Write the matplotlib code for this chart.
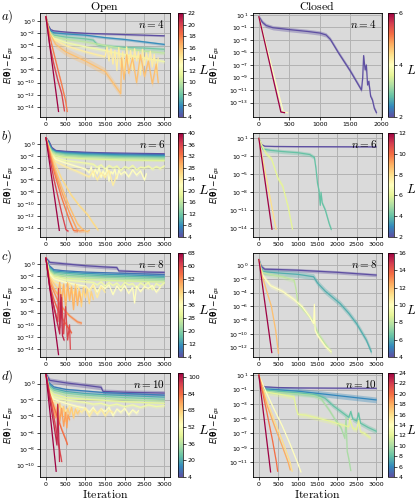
import numpy as np
import matplotlib
matplotlib.use('Agg')
import matplotlib.pyplot as plt
from matplotlib import colors
from matplotlib.cm import ScalarMappable
from matplotlib.ticker import NullLocator

#---------------------------------DATA (log10 of E - E_gs)---------------------------------------------
# open boundary, n = 4
open4_L = [4, 6, 8, 10, 12, 14, 16, 18, 20, 22]
open4_x = [
    [0, 50, 120, 200, 500, 1000, 1500, 2000, 2500, 3000],
    [0, 50, 120, 200, 500, 1000, 1500, 2000, 2500, 3000],
    [0, 50, 120, 200, 500, 1000, 1200, 1300, 1400, 1600, 2000, 2500, 3000],
    [0, 50, 120, 200, 500, 1000, 1500, 2000, 2500, 3000],
    [0, 50, 120, 200, 500, 1000, 1500, 2000, 2500, 3000],
    [0, 50, 120, 200, 500, 1000, 1300, 1500, 1550, 1600, 1650, 1700, 1750, 1800, 1850, 1900, 1950, 2000,
     2050, 2100, 2150, 2200, 2250, 2300, 2350, 2400, 2450, 2500, 2550, 2600, 2650, 2700, 2750, 2800, 2850],
    [0, 100, 250, 500, 1000, 1500, 1900, 1920, 1980, 2050, 2100, 2200, 2300, 2400, 2500, 2600, 2700, 2800, 2850],
    [0, 100, 200, 300, 400, 500, 540],
    [0, 100, 200, 300, 400, 470],
    [0, 320],
]
open4_y = [
    [0.7, -0.6, -1.4, -1.6, -1.8, -2.0, -2.1, -2.2, -2.3, -2.4],
    [0.7, -0.8, -1.6, -1.9, -2.1, -2.3, -2.7, -3.0, -3.4, -3.8],
    [0.7, -1.0, -1.9, -2.3, -2.6, -2.9, -3.1, -3.8, -4.0, -4.1, -4.3, -4.4, -4.6],
    [0.7, -1.1, -2.0, -2.5, -3.0, -3.4, -4.0, -4.5, -4.9, -5.2],
    [0.7, -1.2, -2.2, -2.8, -3.5, -4.2, -4.8, -5.5, -6.0, -6.6],
    [0.7, -1.3, -2.4, -3.0, -4.0, -5.0, -5.5, -5.8, -4.2, -6.5, -4.5, -7.0, -4.8, -8.0, -4.3, -7.5, -5.0, -8.5,
     -4.2, -7.0, -4.8, -8.0, -4.5, -6.5, -5.0, -8.8, -4.6, -7.2, -5.2, -6.8, -4.9, -7.5, -5.4, -8.5, -6.0],
    [0.7, -2.0, -3.8, -5.0, -6.5, -8.2, -11.8, -6.0, -9.5, -5.5, -8.5, -6.0, -10.0, -5.5, -9.0, -6.5, -10.2, -7.0, -10.0],
    [0.7, -2.6, -5.2, -7.8, -10.3, -13.0, -14.7],
    [0.7, -4.0, -7.0, -9.6, -11.8, -14.6],
    [0.7, -14.7],
]
open4_s = [0.15, 0.2, 0.35, 0.3, 0.3, 0.3, 0.6, 0.3, 0.3, 0.1]

# open boundary, n = 6
open6_L = [4, 6, 8, 10, 12, 14, 16, 18, 20, 22, 24, 26, 28, 30, 32, 36, 40]
xb = [0, 80, 150, 250, 500, 1000, 1500, 2000, 2500, 3000]
open6_x = [
    xb, xb, xb, xb, xb, xb, xb, xb,
    [0, 80, 150, 250, 500, 1000, 1200, 1300, 1400, 1500, 1600, 1700, 1800, 1900, 2000, 2100, 2200, 2300,
     2400, 2500, 2600, 2700, 2800, 2900, 3000],
    [0, 80, 150, 250, 500, 800, 1000, 1100, 1150, 1200, 1250, 1300, 1350, 1400, 1450, 1500, 1550, 1600,
     1650, 1700, 1750, 1800, 1850, 1900, 2000, 2100, 2200, 2300, 2400, 2500, 2550],
    [0, 80, 150, 250, 500, 800, 1000, 1100, 1200, 1300, 1400, 1500, 1600, 1700, 1800],
    [0, 200, 400, 640, 850, 1060, 1200, 1320],
    [0, 200, 400, 600, 800, 950, 1050, 1100],
    [0, 200, 400, 600, 790, 850, 950],
    [0, 200, 400, 600, 700, 800],
    [0, 200, 400, 510, 560],
    [0, 340],
]
open6_y = [
    [1.0, 0.4, -0.6, -1.1, -1.25, -1.4, -1.5, -1.55, -1.6, -1.65],
    [1.0, 0.2, -0.8, -1.2, -1.35, -1.5, -1.6, -1.7, -1.75, -1.8],
    [1.0, 0.0, -0.9, -1.3, -1.5, -1.65, -1.75, -1.85, -1.9, -1.95],
    [1.0, -0.2, -1.0, -1.4, -1.6, -1.8, -1.9, -2.0, -2.05, -2.1],
    [1.0, -0.4, -1.1, -1.5, -1.75, -1.95, -2.05, -2.15, -2.2, -2.25],
    [1.0, -0.5, -1.2, -1.6, -1.9, -2.1, -2.2, -2.3, -2.35, -2.4],
    [1.0, -0.6, -1.4, -1.8, -2.1, -2.3, -2.4, -2.5, -2.55, -2.6],
    [1.0, -0.8, -1.6, -2.0, -2.3, -2.5, -2.6, -2.7, -2.75, -2.8],
    [1.0, -1.0, -1.8, -2.3, -2.8, -3.2, -3.4, -3.9, -3.5, -4.2, -3.6, -4.0, -3.7, -4.4, -3.8, -4.1, -3.6, -4.3,
     -3.9, -4.0, -3.7, -4.2, -3.8, -4.1, -3.7],
    [1.0, -1.2, -2.0, -2.6, -3.2, -3.8, -4.2, -4.8, -3.8, -5.5, -4.2, -5.0, -3.9, -5.6, -4.5, -5.2, -4.0, -6.2,
     -4.6, -5.0, -4.2, -5.8, -4.4, -5.1, -4.6, -5.5, -4.3, -5.2, -4.5, -6.0, -5.0],
    [1.0, -1.4, -2.3, -3.0, -3.8, -4.6, -5.2, -5.5, -4.5, -6.0, -4.8, -5.6, -4.4, -6.9, -5.2],
    [1.0, -2.8, -5.8, -8.5, -10.3, -11.8, -13.2, -14.3],
    [1.0, -3.5, -7.2, -10.5, -13.3, -14.4, -14.6, -14.4],
    [1.0, -4.0, -8.0, -11.5, -14.3, -14.5, -14.4],
    [1.0, -4.5, -9.0, -12.8, -14.4, -14.5],
    [1.0, -5.8, -11.5, -14.3, -14.5],
    [1.0, -14.4],
]
open6_s = [0.12, 0.12, 0.12, 0.12, 0.12, 0.12, 0.12, 0.15, 0.3, 0.3, 0.3, 0.3, 0.3, 0.3, 0.3, 0.2, 0.1]

# open boundary, n = 8
open8_L = [4, 8, 12, 16, 20, 24, 28, 32, 36, 40, 44, 48, 52, 56, 60, 64, 68]
xc = [0, 80, 200, 500, 1000, 1500, 2000, 2500, 3000]
open8_x = [
    [0, 100, 500, 1000, 1500, 1800, 1850, 2200, 2600, 3000],
    xc, xc, xc, xc, xc, xc,
    [0, 80, 200, 500, 1000, 1200, 1300, 1400, 1500, 1600, 1700, 1800, 1900, 2000, 2100, 2200, 2300, 2400,
     2500, 2600, 2700, 2800, 2900, 3000],
    [0, 80, 200, 500, 800, 1000, 1100, 1200, 1300, 1400, 1500, 1600, 1700, 1800, 1900, 2000, 2100, 2200,
     2250, 2300, 2400, 2500, 2600, 2700, 2800, 2900],
    [0, 80, 200, 400, 500, 600, 700, 800, 900, 1000, 1100, 1200, 1300, 1400, 1500],
    [0, 80, 200, 300, 400, 450, 500, 550, 600, 650, 700, 750, 800, 850, 900, 950, 1000, 1050, 1100, 1150, 1200],
    [0, 100, 200, 300, 350, 400, 450, 500, 550, 600, 650, 700, 750, 800, 850, 900],
    [0, 100, 200, 300, 400, 500, 600, 700, 800, 900],
    [0, 100, 200, 300, 400, 500, 600, 650],
    [0, 100, 200, 300, 320, 350, 400, 450, 500, 550, 600, 620],
    [0, 100, 200, 300, 350, 380, 420, 460],
    [0, 320],
]
open8_y = [
    [1.0, 0.3, 0.05, -0.25, -0.45, -0.55, -1.1, -1.2, -1.3, -1.35],
    [1.0, -0.2, -0.9, -1.1, -1.3, -1.4, -1.5, -1.6, -1.7],
    [1.0, -0.4, -1.1, -1.3, -1.5, -1.65, -1.75, -1.85, -1.95],
    [1.0, -0.6, -1.3, -1.5, -1.75, -1.9, -2.0, -2.1, -2.2],
    [1.0, -0.8, -1.5, -1.8, -2.0, -2.15, -2.25, -2.35, -2.45],
    [1.0, -1.0, -1.7, -2.0, -2.25, -2.4, -2.5, -2.6, -2.7],
    [1.0, -1.2, -1.9, -2.3, -2.5, -2.65, -2.75, -2.85, -2.95],
    [1.0, -1.3, -2.1, -2.6, -2.9, -3.0, -3.4, -2.9, -3.6, -3.0, -3.5, -3.1, -3.8, -3.0, -3.4, -3.2, -3.9, -3.1,
     -3.5, -3.0, -4.2, -3.2, -3.6, -3.1],
    [1.0, -1.5, -2.4, -3.0, -3.4, -3.6, -4.2, -3.3, -4.6, -3.5, -4.0, -3.4, -5.0, -3.6, -4.4, -3.5, -4.8, -3.8,
     -6.4, -3.6, -4.5, -3.7, -4.0, -3.5, -4.6, -3.8],
    [1.0, -1.8, -2.8, -3.4, -4.2, -3.2, -4.8, -3.5, -5.2, -3.6, -4.5, -3.4, -5.5, -3.7, -4.6],
    [1.0, -2.0, -3.2, -4.0, -5.5, -3.2, -6.2, -3.0, -5.8, -3.6, -6.8, -3.3, -6.0, -4.0, -7.0, -3.8, -5.5, -4.2,
     -6.5, -4.5, -5.8],
    [1.0, -2.5, -4.0, -5.0, -3.0, -6.5, -3.4, -7.2, -3.2, -6.0, -3.8, -7.5, -4.0, -6.8, -4.5, -6.2],
    [1.0, -3.0, -4.5, -6.0, -7.0, -7.8, -8.5, -9.0, -9.5, -9.7],
    [1.0, -3.5, -5.8, -7.5, -8.8, -9.8, -10.8, -11.3],
    [1.0, -4.0, -7.0, -9.5, -4.0, -10.5, -5.5, -11.5, -7.0, -12.5, -10.0, -14.0],
    [1.0, -3.8, -7.0, -10.0, -11.5, -5.0, -11.8, -12.5],
    [1.0, -14.9],
]
open8_s = [0.3, 0.15, 0.12, 0.12, 0.12, 0.12, 0.15, 0.25, 0.25, 0.25, 0.3, 0.3, 0.3, 0.3, 0.3, 0.3, 0.1]

# open boundary, n = 10
open10_L = [4, 12, 20, 28, 36, 44, 48, 54, 60, 68, 76, 84, 92, 98, 104]
xd = [0, 80, 200, 500, 1000, 1500, 2000, 2500, 3000]
open10_x = [
    [0, 100, 500, 1000, 1400, 1450, 2000, 2500, 3000],
    xd, xd, xd, xd, xd,
    [0, 80, 200, 500, 1000, 1200, 1400, 1600, 1800, 2000, 2200, 2400, 2600, 2800, 3000],
    [0, 80, 200, 500, 800, 1000, 1100, 1200, 1300, 1400, 1500, 1600, 1700, 1800, 1900, 2000, 2100, 2200,
     2300, 2350],
    [0, 80, 200, 400, 500, 600, 700, 800, 900, 1000, 1100, 1200, 1300, 1400, 1500, 1600, 1700],
    [0, 80, 200, 300, 350, 400, 450, 500, 550, 600, 650, 700, 750, 800, 850],
    [0, 100, 200, 250, 300, 350, 400, 450, 500, 530, 560, 600],
    [0, 100, 200, 300, 400, 500, 545],
    [0, 100, 200, 300, 400],
    [0, 100, 200, 280, 300, 345],
    [0, 260],
]
open10_y = [
    [1.2, 0.4, 0.1, -0.2, -0.45, -0.95, -1.05, -1.1, -1.15],
    [1.2, 0.1, -0.4, -0.7, -0.9, -1.1, -1.2, -1.3, -1.4],
    [1.2, -0.1, -0.6, -0.95, -1.2, -1.35, -1.45, -1.55, -1.65],
    [1.2, -0.3, -0.8, -1.15, -1.4, -1.55, -1.7, -1.8, -1.9],
    [1.2, -0.5, -1.0, -1.4, -1.65, -1.8, -1.95, -2.05, -2.15],
    [1.2, -0.7, -1.3, -1.7, -1.9, -2.05, -2.2, -2.3, -2.4],
    [1.2, -0.9, -1.6, -2.0, -2.3, -2.5, -2.4, -2.7, -2.5, -2.8, -2.6, -2.9, -2.6, -2.8, -2.7],
    [1.2, -1.1, -1.9, -2.4, -2.8, -3.0, -3.5, -2.9, -3.7, -3.1, -3.4, -2.9, -3.9, -3.1, -3.5, -3.0, -3.8, -3.2,
     -3.6, -3.3],
    [1.2, -1.3, -2.2, -2.8, -3.4, -2.7, -3.8, -2.9, -3.5, -3.0, -4.0, -3.2, -3.6, -3.1, -3.9, -3.3, -3.5],
    [1.2, -1.6, -2.6, -3.3, -2.4, -4.0, -2.8, -4.6, -3.0, -3.8, -2.9, -4.2, -3.1, -3.7, -3.3],
    [1.2, -2.0, -3.2, -4.2, -2.6, -4.6, -3.0, -5.2, -3.5, -5.4, -3.8, -4.4],
    [1.2, -1.2, -2.8, -4.2, -5.6, -6.8, -7.4],
    [1.2, -1.5, -4.0, -6.8, -9.5],
    [1.2, -2.0, -5.0, -7.5, -2.5, -9.5],
    [1.2, -10.7],
]
open10_s = [0.3, 0.15, 0.12, 0.12, 0.12, 0.12, 0.2, 0.25, 0.25, 0.3, 0.3, 0.3, 0.3, 0.3, 0.1]

# closed boundary, n = 4
closed4_L = [2, 4, 6]
closed4_x = [
    [0, 60, 120, 230, 500, 800, 1000, 1100, 1170, 1300, 1500, 1680, 1700, 1715, 1740, 1760, 1780, 1800,
     1830, 1860, 1890, 1925],
    [0, 400, 470],
    [0, 360, 420],
]
closed4_y = [
    [0.7, -0.2, -0.7, -1.05, -1.35, -1.65, -1.9, -2.2, -2.9, -5.0, -8.0, -11.0, -9.0, -5.5, -7.8, -7.0, -10.2,
     -9.6, -12.0, -12.6, -13.9, -14.6],
    [0.7, -14.5, -14.6],
    [0.7, -14.5, -14.6],
]
closed4_s = [0.35, 0.1, 0.05]

# closed boundary, n = 6
closed6_L = [2, 4, 6, 8, 12]
closed6_x = [
    [0, 60, 150, 400, 1000, 2000, 3000],
    [0, 60, 110, 300, 600, 1000, 1300, 1420, 1460, 1500, 1540, 1570, 1590, 1620, 1700, 1800, 1850],
    [0, 100, 190, 320, 490, 610, 750, 860],
    [0, 440],
    [0, 335],
]
closed6_y = [
    [1.0, 0.0, -0.3, -0.35, -0.38, -0.4, -0.42],
    [1.0, -0.3, -0.8, -1.0, -1.2, -1.4, -1.7, -2.2, -4.0, -6.5, -7.8, -10.2, -8.0, -9.8, -11.0, -13.3, -14.2],
    [1.0, -0.5, -1.6, -2.4, -5.7, -7.0, -10.5, -14.2],
    [1.0, -14.2],
    [1.0, -14.2],
]
closed6_s = [0.08, 0.35, 0.4, 0.1, 0.05]

# closed boundary, n = 8
closed8_L = [4, 6, 8, 10, 12, 16]
closed8_x = [
    [0, 60, 150, 500, 1000, 1500, 2000, 2500, 3000],
    [0, 60, 110, 500, 1000, 1400, 1500, 1700, 2080, 2300, 2500, 2750, 2875],
    [0, 60, 110, 300, 600, 900, 950, 1000, 1100, 1300, 1400, 1500, 1700, 1850],
    [0, 60, 110, 300, 600, 900, 1100, 1300, 1400, 1420, 1440, 1500, 1700, 1850],
    [0, 80, 200, 320, 430, 500],
    [0, 330],
]
closed8_y = [
    [0.8, -0.2, -0.6, -0.65, -0.75, -0.9, -1.05, -1.25, -1.45],
    [0.8, -0.4, -0.95, -1.15, -1.35, -1.7, -2.6, -3.8, -5.6, -7.0, -8.5, -10.9, -12.6],
    [0.8, -0.6, -1.1, -1.4, -1.7, -2.2, -3.5, -5.6, -6.2, -7.5, -8.3, -9.8, -11.5, -12.6],
    [0.8, -0.9, -1.6, -3.0, -3.8, -5.0, -6.0, -7.5, -8.5, -5.7, -9.5, -10.2, -11.8, -12.6],
    [0.8, -1.5, -3.8, -6.0, -9.5, -12.8],
    [0.8, -12.7],
]
closed8_s = [0.25, 0.45, 0.35, 0.35, 0.15, 0.05]

# closed boundary, n = 10
closed10_L = [4, 6, 8, 10, 12, 14, 16, 18, 20, 24]
closed10_x = [
    [0, 60, 150, 500, 1000, 2000, 3000],
    [0, 60, 150, 500, 1000, 1500, 2000, 2500, 3000],
    [0, 60, 150, 500, 1000, 1500, 1700, 1900, 2100, 2300, 2350, 2400, 2500, 2550, 2600, 2700, 2800, 3000],
    [0, 60, 150, 500, 1000, 1400, 1600, 1800, 1950, 2100, 2200, 2230, 2260, 2300, 2350],
    [0, 60, 150, 500, 900, 950, 1000, 1200, 1500, 1800, 2100, 2300, 2320, 2400, 2500, 2550, 2600, 2700, 2850],
    [0, 200, 400, 600, 800, 1000, 1075],
    [0, 200, 400, 600, 800, 850],
    [0, 200, 400, 600, 750, 800],
    [0, 200, 350, 450, 480],
    [0, 300],
]
closed10_y = [
    [1.0, -0.3, -0.6, -0.7, -0.75, -0.78, -0.8],
    [1.0, -0.6, -0.9, -1.0, -1.2, -1.5, -1.8, -2.1, -2.4],
    [1.0, -0.7, -1.0, -1.2, -1.4, -1.7, -2.2, -3.2, -4.0, -4.8, -4.0, -5.0, -5.3, -4.2, -5.6, -5.9, -6.2, -6.7],
    [1.0, -0.8, -1.2, -1.4, -1.6, -1.8, -2.3, -3.8, -5.1, -6.2, -7.7, -4.8, -9.5, -10.5, -12.1],
    [1.0, -0.9, -1.3, -1.6, -2.0, -3.5, -4.4, -4.5, -4.9, -5.3, -5.8, -6.1, -5.0, -6.3, -6.5, -5.2, -6.8, -7.0, -7.6],
    [1.0, -1.5, -3.8, -6.0, -8.5, -11.2, -12.3],
    [1.0, -2.5, -5.3, -8.0, -11.0, -12.2],
    [1.0, -3.0, -6.0, -8.8, -11.0, -12.0],
    [1.0, -4.0, -8.0, -11.0, -12.2],
    [1.0, -12.3],
]
closed10_s = [0.1, 0.4, 0.35, 0.3, 0.35, 0.15, 0.15, 0.15, 0.1, 0.05]

#---------------------------------FIGURE--------------------------------------------------------------
W, H = 415, 499
fig = plt.figure(figsize=(W / 100, H / 100), dpi=100)
cmap = plt.get_cmap('Spectral_r')


def px_axes(x0, y0, w, h):
    return fig.add_axes([x0 / W, 1 - (y0 + h) / H, w / W, h / H])


def fig_text(x, y, s, **kw):
    return fig.text(x / W, 1 - y / H, s, math_fontfamily='cm', **kw)


def draw_panel(ax, cax, Ls, xs, ys, ss, vmin, vmax, cticks, yt, ylim, xlim, xticks, ntext, ylab_x):
    norm = colors.Normalize(vmin=vmin, vmax=vmax)
    for L, x, y, s in zip(Ls, xs, ys, ss):
        x = np.array(x, dtype=float)
        y = np.array(y, dtype=float)
        c = cmap(norm(L))
        ax.fill_between(x, 10.0 ** (y - s), 10.0 ** (y + s), color=c, alpha=0.35, lw=0)
        ax.plot(x, 10.0 ** y, color=c, lw=0.9)
    ax.set_yscale('log')
    ax.set_ylim(10.0 ** ylim[0], 10.0 ** ylim[1])
    ax.set_yticks([10.0 ** k for k in yt])
    ax.yaxis.set_minor_locator(NullLocator())
    ax.set_xlim(*xlim)
    ax.set_xticks(xticks)
    ax.set_facecolor('#dadada')
    ax.grid(True, color='#b2b2b2', lw=0.7)
    ax.set_axisbelow(True)
    ax.tick_params(labelsize=4.5, length=2, width=0.5, pad=1.5)
    for sp in ax.spines.values():
        sp.set_linewidth(0.6)
    ax.text(0.96, 0.95, r'$n = %d$' % ntext, transform=ax.transAxes, ha='right', va='top',
            fontsize=8, math_fontfamily='cm')
    ax.set_ylabel(r'$E(\mathbf{\theta}) - E_{gs}$', fontsize=5.5)
    ax.yaxis.set_label_coords(ylab_x, 0.5)
    cb = fig.colorbar(ScalarMappable(norm=norm, cmap=cmap), cax=cax)
    cb.set_ticks(cticks)
    cb.ax.tick_params(labelsize=4.5, length=2, width=0.5, pad=1.5)
    cb.outline.set_linewidth(0.5)


row_tops = [13, 133, 253, 373]
ax_h = 104
labels = ['a)', 'b)', 'c)', 'd)']

open_sets = [
    (open4_L, open4_x, open4_y, open4_s, 4, 22, range(4, 23, 2), range(0, -15, -2), (-15.6, 1.3), 4),
    (open6_L, open6_x, open6_y, open6_s, 4, 40, range(4, 41, 4), range(0, -15, -2), (-15.5, 1.8), 6),
    (open8_L, open8_x, open8_y, open8_s, 4, 68, range(4, 69, 8), range(0, -15, -2), (-15.3, 1.85), 8),
    (open10_L, open10_x, open10_y, open10_s, 4, 104, range(4, 101, 16), range(0, -11, -2), (-11.4, 1.3), 10),
]
closed_sets = [
    (closed4_L, closed4_x, closed4_y, closed4_s, 2, 6, [2, 4, 6], range(1, -14, -2), (-15.3, 1.3), 4),
    (closed6_L, closed6_x, closed6_y, closed6_s, 2, 12, range(2, 13, 2), range(1, -15, -3), (-15.5, 1.9), 6),
    (closed8_L, closed8_x, closed8_y, closed8_s, 4, 16, range(4, 17, 2), range(0, -13, -2), (-13.35, 1.75), 8),
    (closed10_L, closed10_x, closed10_y, closed10_s, 4, 24, range(4, 25, 2), range(1, -12, -2), (-13.0, 1.3), 10),
]

for i, top in enumerate(row_tops):
    axl = px_axes(40, top, 130, ax_h)
    cl = px_axes(178, top, 5, ax_h)
    L, xs, ys, ss, v0, v1, ct, yt, yl, n = open_sets[i]
    draw_panel(axl, cl, L, xs, ys, ss, v0, v1, list(ct), list(yt), yl, (-150, 3150),
               range(0, 3001, 500), n, (16 - 40) / 130)

    axr = px_axes(253, top, 129, ax_h)
    cr = px_axes(388, top, 5.5, ax_h)
    L, xs, ys, ss, v0, v1, ct, yt, yl, n = closed_sets[i]
    if i == 0:
        xl, xt = (-96, 2016), range(0, 2001, 500)
    else:
        xl, xt = (-150, 3150), range(0, 3001, 500)
    draw_panel(axr, cr, L, xs, ys, ss, v0, v1, list(ct), list(yt), yl, xl, xt, n, (222 - 253) / 129)

    fig_text(1, top + 4, r'$%s$' % labels[i], fontsize=9, va='center', ha='left')
    fig_text(198, top + 57, r'$L$', fontsize=10, va='center', ha='left')
    fig_text(406, top + 57, r'$L$', fontsize=9.5, va='center', ha='left')

fig_text(105, 7, r'$\mathrm{Open}$', fontsize=8.5, ha='center', va='center')
fig_text(317, 7, r'$\mathrm{Closed}$', fontsize=8.5, ha='center', va='center')
fig_text(105, 494, r'$\mathrm{Iteration}$', fontsize=8.5, ha='center', va='center')
fig_text(317, 494, r'$\mathrm{Iteration}$', fontsize=8.5, ha='center', va='center')

fig.savefig('out.png', dpi=100)
